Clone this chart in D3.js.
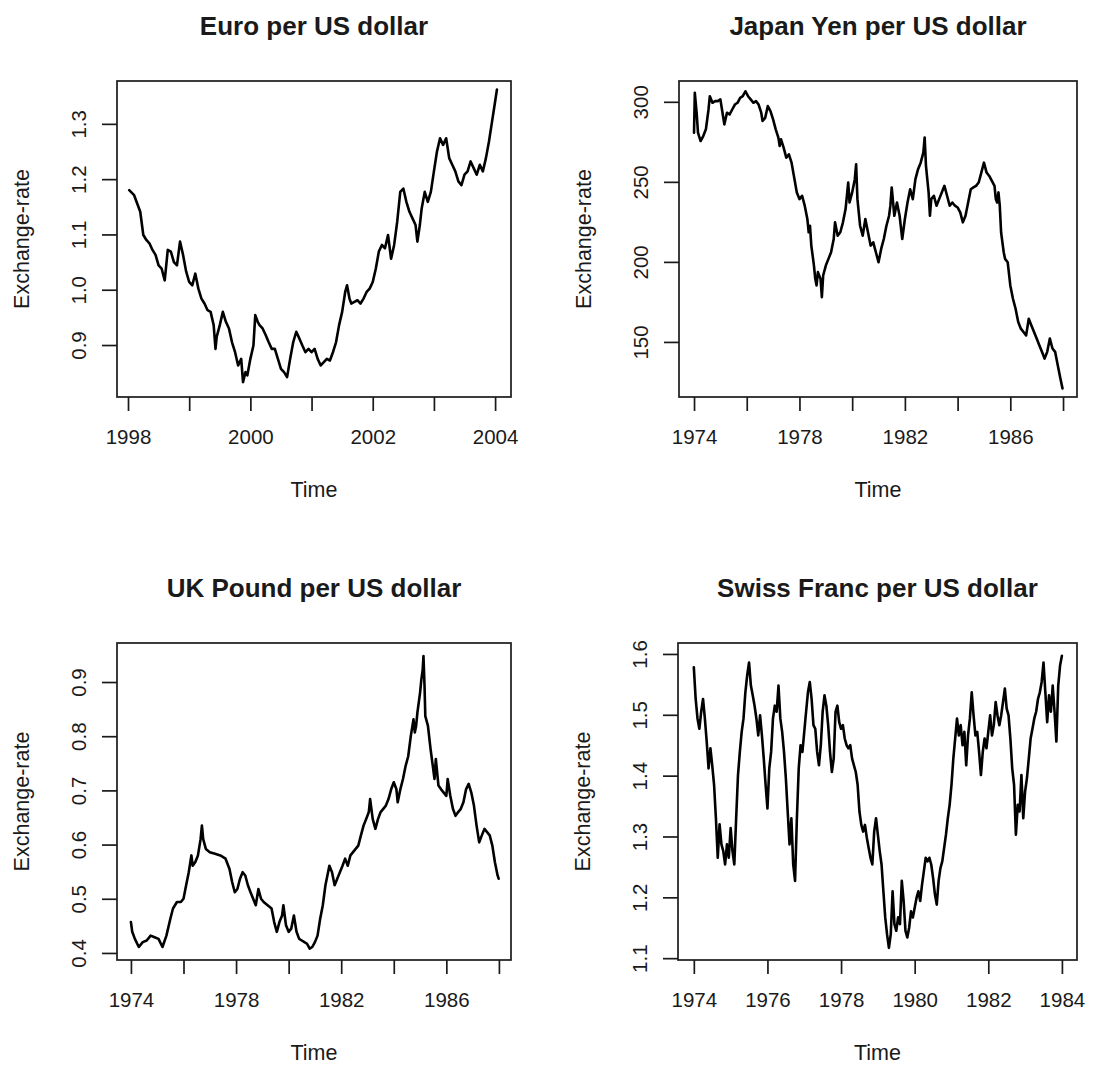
<!DOCTYPE html>
<html><head><meta charset="utf-8">
<script src="https://cdn.jsdelivr.net/npm/d3@7"></script>
<style>
body{margin:0;background:#fff}
svg{display:block}
text{font-family:"Liberation Sans",Arial,Helvetica,sans-serif;fill:#1a1a1a}
</style>
</head><body>
<svg id="c" width="1102" height="1070"></svg>
<script>
// ---------- Euro per US dollar ----------
const euroTime = [1998.02,1998.1,1998.2,1998.25,1998.3,1998.35,1998.4,1998.45,1998.5,1998.55,1998.6,1998.65,1998.7,1998.75,1998.8,1998.85,1998.9,1998.95,1999.0,1999.05,1999.1,1999.15,1999.2,1999.25,1999.3,1999.35,1999.4,1999.43,1999.45,1999.5,1999.55,1999.6,1999.65,1999.7,1999.75,1999.8,1999.85,1999.88,1999.92,1999.95,2000.0,2000.05,2000.08,2000.12,2000.15,2000.2,2000.25,2000.3,2000.35,2000.4,2000.45,2000.5,2000.55,2000.6,2000.65,2000.7,2000.75,2000.8,2000.85,2000.9,2000.95,2001.0,2001.05,2001.1,2001.15,2001.2,2001.25,2001.3,2001.35,2001.4,2001.45,2001.5,2001.55,2001.58,2001.62,2001.65,2001.7,2001.75,2001.8,2001.85,2001.9,2001.95,2002.0,2002.05,2002.1,2002.15,2002.2,2002.25,2002.3,2002.35,2002.4,2002.45,2002.5,2002.55,2002.6,2002.65,2002.7,2002.73,2002.77,2002.8,2002.85,2002.9,2002.95,2003.0,2003.05,2003.1,2003.15,2003.2,2003.25,2003.3,2003.35,2003.4,2003.45,2003.5,2003.55,2003.6,2003.65,2003.7,2003.75,2003.8,2003.85,2003.9,2003.95,2004.0,2004.03];
const euroRate = [1.180,1.171,1.141,1.099,1.090,1.084,1.072,1.063,1.044,1.038,1.017,1.072,1.069,1.050,1.044,1.087,1.063,1.033,1.014,1.008,1.029,1.002,0.984,0.975,0.963,0.960,0.936,0.893,0.915,0.936,0.960,0.942,0.930,0.905,0.887,0.863,0.875,0.833,0.851,0.845,0.875,0.899,0.954,0.942,0.936,0.930,0.918,0.905,0.893,0.893,0.875,0.857,0.851,0.842,0.875,0.905,0.924,0.912,0.899,0.887,0.893,0.887,0.893,0.875,0.863,0.869,0.875,0.872,0.887,0.905,0.936,0.960,0.996,1.008,0.984,0.975,0.978,0.981,0.975,0.984,0.996,1.002,1.014,1.038,1.069,1.081,1.075,1.099,1.056,1.081,1.123,1.177,1.183,1.159,1.141,1.129,1.117,1.087,1.117,1.147,1.177,1.159,1.177,1.214,1.250,1.274,1.262,1.274,1.238,1.226,1.214,1.196,1.189,1.208,1.214,1.232,1.220,1.208,1.226,1.214,1.238,1.268,1.304,1.340,1.362];
const euroXTicks = [1998,1999,2000,2001,2002,2003,2004];
const euroXLabels = [1998,2000,2002,2004];
const euroYTicks = [0.9,1.0,1.1,1.2,1.3];

// ---------- Japan Yen per US dollar ----------
const yenTime = [1974.0,1974.03,1974.1,1974.15,1974.25,1974.35,1974.45,1974.55,1974.6,1974.7,1974.8,1974.9,1975.0,1975.1,1975.15,1975.25,1975.35,1975.45,1975.55,1975.65,1975.75,1975.85,1975.95,1976.05,1976.15,1976.25,1976.35,1976.45,1976.55,1976.6,1976.7,1976.8,1976.9,1977.0,1977.1,1977.2,1977.25,1977.3,1977.4,1977.5,1977.6,1977.7,1977.8,1977.9,1978.0,1978.1,1978.2,1978.3,1978.35,1978.4,1978.45,1978.55,1978.6,1978.65,1978.7,1978.8,1978.85,1978.9,1979.0,1979.1,1979.2,1979.3,1979.35,1979.45,1979.55,1979.65,1979.75,1979.8,1979.85,1979.9,1980.0,1980.1,1980.15,1980.2,1980.3,1980.4,1980.5,1980.6,1980.7,1980.8,1980.9,1981.0,1981.1,1981.2,1981.3,1981.4,1981.45,1981.5,1981.6,1981.7,1981.8,1981.9,1982.0,1982.1,1982.2,1982.3,1982.4,1982.5,1982.6,1982.7,1982.75,1982.8,1982.9,1982.95,1983.0,1983.1,1983.2,1983.3,1983.4,1983.5,1983.6,1983.7,1983.8,1983.9,1984.0,1984.1,1984.2,1984.3,1984.4,1984.5,1984.6,1984.7,1984.8,1984.9,1985.0,1985.1,1985.2,1985.3,1985.4,1985.45,1985.5,1985.55,1985.6,1985.65,1985.7,1985.75,1985.8,1985.9,1986.0,1986.1,1986.2,1986.3,1986.4,1986.5,1986.6,1986.7,1986.8,1986.9,1987.0,1987.1,1987.2,1987.3,1987.4,1987.5,1987.6,1987.7,1987.8,1987.9,1987.98];
const yenRate = [280.7,305.6,293,280.7,275.5,278.6,282.8,295.2,303.5,299.4,300.4,300.4,301.5,291.1,285.9,293.2,292.1,295.2,298.3,299.4,302.5,303.5,306.6,303.5,301.5,299.4,300.4,298.3,293.2,288,290,297.3,294.2,289,282.8,277.6,272.4,276.6,271.4,265.1,267.2,262,252.7,243.4,239.2,241.3,235.1,226.8,218.5,222.6,210.2,197.7,189.4,185.3,193.6,189.4,178.0,191.5,197.7,201.9,206,214.3,224.7,216.4,218.5,224.7,233,241.3,249.6,237.1,243.4,251.7,261,239.2,222.6,216.4,226.8,218.5,210.2,212.2,206,199.8,208.1,214.3,222.6,228.8,235.1,246.5,228.8,237.1,228.8,214.3,226.8,237.1,245.4,239.2,251.7,257.9,262,268.3,277.6,260,243.4,228.8,239.2,241.3,235.1,239.2,243.4,247.5,241.3,235.1,237.1,235.1,234,230.9,224.7,228.8,237.1,245.4,246.5,247.5,249.6,255.8,262,255.8,253.7,250.6,247.5,239.2,237.1,243.4,235.1,218.5,212.2,206,201.9,199.8,185.3,177.0,170.7,162.4,158.3,156.2,154.1,164.5,160.3,156.2,152.1,147.9,143.8,139.6,143.8,152.1,145.9,143.8,135.5,127.2,121];
const yenXTicks = [1974,1976,1978,1980,1982,1984,1986,1988];
const yenXLabels = [1974,1978,1982,1986];
const yenYTicks = [150,200,250,300];

// ---------- UK Pound per US dollar ----------
const poundTime = [1974.0,1974.05,1974.15,1974.3,1974.45,1974.6,1974.75,1974.9,1975.05,1975.2,1975.35,1975.5,1975.6,1975.75,1975.9,1976.0,1976.1,1976.2,1976.3,1976.35,1976.45,1976.55,1976.65,1976.7,1976.75,1976.85,1977.0,1977.2,1977.4,1977.6,1977.75,1977.85,1977.95,1978.05,1978.15,1978.25,1978.35,1978.45,1978.55,1978.65,1978.75,1978.85,1978.95,1979.05,1979.2,1979.35,1979.45,1979.55,1979.65,1979.75,1979.8,1979.9,1980.0,1980.1,1980.2,1980.3,1980.4,1980.5,1980.6,1980.7,1980.8,1980.9,1981.0,1981.1,1981.2,1981.3,1981.4,1981.5,1981.55,1981.65,1981.75,1981.85,1981.95,1982.05,1982.15,1982.25,1982.35,1982.45,1982.55,1982.65,1982.75,1982.85,1982.95,1983.05,1983.1,1983.2,1983.3,1983.4,1983.5,1983.6,1983.7,1983.8,1983.9,1984.0,1984.1,1984.15,1984.25,1984.35,1984.45,1984.55,1984.65,1984.75,1984.8,1984.85,1984.9,1985.0,1985.05,1985.1,1985.13,1985.17,1985.2,1985.3,1985.4,1985.45,1985.55,1985.6,1985.7,1985.8,1985.9,1986.0,1986.05,1986.15,1986.25,1986.35,1986.45,1986.55,1986.65,1986.75,1986.85,1986.95,1987.05,1987.15,1987.25,1987.35,1987.45,1987.55,1987.65,1987.75,1987.85,1987.95,1987.99];
const poundRate = [0.457,0.439,0.426,0.411,0.420,0.423,0.432,0.429,0.426,0.411,0.432,0.463,0.482,0.494,0.494,0.500,0.525,0.549,0.580,0.561,0.568,0.580,0.610,0.635,0.610,0.592,0.586,0.583,0.580,0.574,0.555,0.531,0.512,0.518,0.537,0.549,0.543,0.525,0.512,0.500,0.488,0.518,0.500,0.494,0.488,0.482,0.457,0.439,0.457,0.469,0.488,0.451,0.439,0.445,0.469,0.439,0.426,0.423,0.420,0.417,0.408,0.411,0.420,0.432,0.463,0.488,0.525,0.549,0.561,0.549,0.525,0.537,0.549,0.561,0.574,0.561,0.580,0.586,0.592,0.598,0.617,0.635,0.647,0.660,0.684,0.647,0.629,0.647,0.660,0.666,0.672,0.684,0.702,0.715,0.702,0.678,0.702,0.721,0.745,0.763,0.801,0.831,0.807,0.819,0.844,0.880,0.905,0.923,0.948,0.893,0.837,0.819,0.776,0.758,0.721,0.758,0.709,0.702,0.696,0.690,0.721,0.690,0.666,0.653,0.660,0.666,0.678,0.702,0.712,0.696,0.672,0.635,0.604,0.617,0.629,0.623,0.617,0.598,0.567,0.543,0.537];
const poundXTicks = [1974,1976,1978,1980,1982,1984,1986,1988];
const poundXLabels = [1974,1978,1982,1986];
const poundYTicks = [0.4,0.5,0.6,0.7,0.8,0.9];

// ---------- Swiss Franc per US dollar (regular series, start 1974, 20 obs / year) ----------
const francStart = 1974;
const francFreq = 20;
const francRate = [
1.578,1.526,1.494,1.477,1.505,1.526,1.494,1.456,1.412,1.445,1.417,1.385,1.330,1.265,1.320,1.287,1.276,1.254,1.287,1.265,
1.314,1.276,1.254,1.330,1.401,1.439,1.472,1.494,1.537,1.565,1.586,1.548,1.532,1.515,1.494,1.466,1.499,1.466,1.428,1.385,
1.346,1.412,1.439,1.494,1.515,1.505,1.548,1.494,1.472,1.439,1.396,1.341,1.287,1.330,1.254,1.227,1.330,1.412,1.450,1.439,
1.472,1.505,1.537,1.554,1.526,1.483,1.477,1.439,1.417,1.450,1.505,1.532,1.515,1.483,1.439,1.406,1.428,1.505,1.515,1.488,
1.477,1.483,1.461,1.450,1.445,1.450,1.428,1.417,1.406,1.385,1.341,1.319,1.308,1.319,1.298,1.281,1.265,1.254,1.308,1.330,
1.303,1.276,1.254,1.210,1.167,1.139,1.117,1.139,1.210,1.156,1.145,1.167,1.156,1.227,1.194,1.145,1.134,1.150,1.177,1.167,
1.183,1.199,1.210,1.194,1.221,1.243,1.265,1.259,1.265,1.254,1.232,1.205,1.188,1.227,1.248,1.259,1.281,1.303,1.330,1.352,
1.385,1.428,1.461,1.494,1.466,1.483,1.450,1.472,1.417,1.466,1.494,1.537,1.499,1.466,1.472,1.439,1.401,1.439,1.461,1.445,
1.472,1.499,1.466,1.483,1.521,1.499,1.483,1.499,1.521,1.543,1.510,1.499,1.461,1.412,1.385,1.303,1.352,1.341,1.401,1.330,
1.374,1.396,1.428,1.461,1.477,1.494,1.505,1.526,1.537,1.554,1.586,1.537,1.488,1.532,1.505,1.548,1.505,1.456,1.548,1.581,
1.597];
const francTime = francRate.map((_, i) => francStart + i / francFreq);
const francXTicks = [1974,1976,1978,1980,1982,1984];
const francXLabels = [1974,1976,1978,1980,1982,1984];
const francYTicks = [1.1,1.2,1.3,1.4,1.5,1.6];

// ---------- layout ----------
const panels = [
  {title:"Euro per US dollar", time:euroTime, values:euroRate, xDomain:[1997.82,2004.26], yDomain:[0.806,1.3775],
   xTicks:euroXTicks, xLabels:euroXLabels, yTicks:euroYTicks, yFmt:d3.format(".1f"), left:117, right:511, top:81, bottom:397},
  {title:"Japan Yen per US dollar", time:yenTime, values:yenRate, xDomain:[1973.43,1988.53], yDomain:[115.6,313],
   xTicks:yenXTicks, xLabels:yenXLabels, yTicks:yenYTicks, yFmt:d3.format("d"), left:679, right:1077, top:81, bottom:397},
  {title:"UK Pound per US dollar", time:poundTime, values:poundRate, xDomain:[1973.47,1988.46], yDomain:[0.387,0.972],
   xTicks:poundXTicks, xLabels:poundXLabels, yTicks:poundYTicks, yFmt:d3.format(".1f"), left:117, right:511, top:643, bottom:960},
  {title:"Swiss Franc per US dollar", time:francTime, values:francRate, xDomain:[1973.57,1984.41], yDomain:[1.097,1.618],
   xTicks:francXTicks, xLabels:francXLabels, yTicks:francYTicks, yFmt:d3.format(".1f"), left:678, right:1077, top:643, bottom:960}
];

const svg = d3.select("#c");
const ink = "#1a1a1a";
const fontFam = "'Liberation Sans',Arial,sans-serif";

panels.forEach(p => {
  const x = d3.scaleLinear().domain(p.xDomain).range([p.left, p.right]);
  const y = d3.scaleLinear().domain(p.yDomain).range([p.bottom, p.top]);
  const g = svg.append("g");
  const cx = (p.left + p.right) / 2, cy = (p.top + p.bottom) / 2;

  // line
  const n = Math.min(p.time.length, p.values.length);
  const pts = d3.range(n).map(i => [p.time[i], p.values[i]]);
  g.append("path").datum(pts)
    .attr("fill","none").attr("stroke","#000").attr("stroke-width",2.6)
    .attr("stroke-linejoin","round").attr("stroke-linecap","round")
    .attr("d", d3.line().x(d => x(d[0])).y(d => y(d[1])));

  // box
  g.append("rect").attr("x",p.left).attr("y",p.top)
    .attr("width",p.right-p.left).attr("height",p.bottom-p.top)
    .attr("fill","none").attr("stroke",ink).attr("stroke-width",1.7);

  // x axis
  const xa = g.append("g").attr("transform",`translate(0,${p.bottom})`)
    .call(d3.axisBottom(x).tickValues(p.xTicks).tickSize(14)
      .tickFormat(d => p.xLabels.includes(d) ? String(d) : ""));
  xa.select(".domain").remove();
  xa.selectAll("line").attr("stroke",ink).attr("stroke-width",1.7);
  xa.selectAll("text").attr("y",40).attr("dy","0.35em")
    .attr("font-size",20.5).attr("fill",ink).style("font-family",fontFam);

  // y axis
  const ya = g.append("g").attr("transform",`translate(${p.left},0)`)
    .call(d3.axisLeft(y).tickValues(p.yTicks).tickSize(15).tickFormat(p.yFmt));
  ya.select(".domain").remove();
  ya.selectAll("line").attr("stroke",ink).attr("stroke-width",1.7);
  ya.selectAll("text").attr("x",null).attr("dy",null)
    .attr("transform","translate(-39,0) rotate(-90)")
    .attr("text-anchor","middle").attr("dominant-baseline","central")
    .attr("font-size",20.5).attr("fill",ink).style("font-family",fontFam);

  // titles
  g.append("text").attr("x",cx).attr("y",p.top-55).attr("text-anchor","middle")
    .attr("dominant-baseline","central").attr("font-size",26).attr("font-weight","bold").text(p.title);
  g.append("text").attr("x",cx).attr("y",p.bottom+93).attr("text-anchor","middle")
    .attr("dominant-baseline","central").attr("font-size",21.5).text("Time");
  g.append("text").attr("transform",`translate(${p.left-95},${cy}) rotate(-90)`)
    .attr("text-anchor","middle").attr("dominant-baseline","central")
    .attr("font-size",21.5).text("Exchange-rate");
});
</script>
</body></html>
